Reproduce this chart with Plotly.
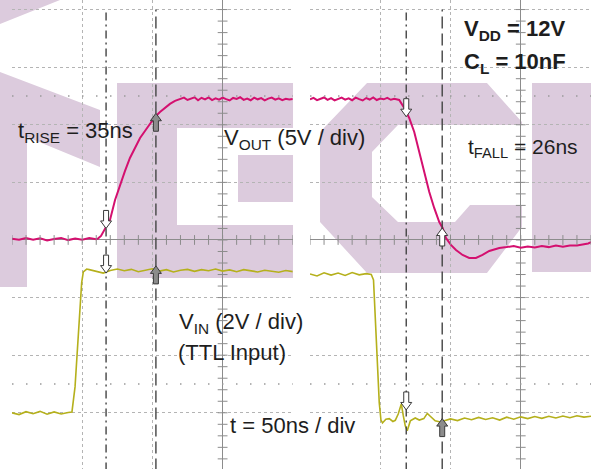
import numpy as np
import plotly.graph_objects as go

# ---------------- data (time in ns, voltage in V) ----------------
# Rising edge capture (left screen)
t_out_rise = [-150, -145, -140, -135, -130, -125, -120, -115, -110, -105, -100, -95, -90,
              -88.8, -86.6, -84.5, -82.3, -80.2, -76.6, -73.1, -69.5, -66.0, -62.4, -58.8,
              -55.3, -51.7, -48.2, -44.6, -41.0, -37.5, -33.9, -30.3,
              -27.5, -25, -22.5, -20, -17.5, -15, -12.5, -10, -7.5, -5, -2.5, 0, 2.5, 5, 7.5, 10,
              12.5, 15, 17.5, 20, 22.5, 25, 27.5, 30, 32.5, 35, 37.5, 40, 42.5, 45, 47.5, 50]
v_out_rise = [0.10, 0.02, 0.16, 0.03, 0.14, -0.05, 0.09, 0.18, -0.01, 0.13, 0.02, 0.17, 0.06,
              0.12, 0.35, 0.78, 1.22, 1.74, 3.47, 4.77, 5.99, 7.12, 7.99, 8.85,
              9.46, 10.07, 10.68, 11.11, 11.46, 11.81, 12.07, 12.24,
              12.36, 12.15, 12.30, 12.38, 12.12, 12.34, 12.20, 12.37, 12.14, 12.29, 12.18, 12.36,
              12.22, 12.11, 12.33, 12.25, 12.39, 12.16, 12.28, 12.13, 12.35, 12.21, 12.31, 12.12,
              12.27, 12.36, 12.18, 12.30, 12.14, 12.26, 12.20, 12.24]

t_in_rise = [-150, -145, -140, -135, -130, -125, -120, -115, -110,
             -107.3, -105.1, -103.5, -102.3, -100.4, -99.2, -96.8,
             -95, -90, -85, -80, -75, -70, -65, -60, -55, -50, -45, -40, -35, -30, -25,
             -20, -15, -10, -5, 0, 5, 10, 15, 20, 25, 30, 35, 40, 45, 50]
v_in_rise = [0.00, -0.06, 0.04, -0.03, 0.05, -0.05, 0.03, -0.04, 0.01,
             0.03, 0.90, 2.08, 3.22, 4.51, 4.89, 4.99,
             4.97, 4.91, 4.85, 4.94, 4.99, 4.93, 4.98, 4.90, 4.96, 5.00, 4.92, 4.97, 4.89, 4.95, 4.98,
             4.91, 4.97, 4.93, 4.99, 4.92, 4.96, 4.90, 4.97, 4.92, 4.89, 4.95, 4.91, 4.88, 4.94, 4.90]

# Falling edge capture (right screen)
t_out_fall = [-150, -147.5, -145, -142.5, -140, -137.5, -135, -132.5, -130, -127.5, -125, -122.5,
              -120, -117.5, -115, -112.5, -110, -107.5, -105, -102.5, -100, -97.5, -95, -92.5, -90,
              -86.5, -82.9, -79.4, -75.8, -72.2, -68.7, -65.1, -61.6, -58.0, -55.6, -53.2,
              -49.7, -46.1, -41.4, -36.7, -31.9, -27.2, -22.4, -15.3,
              -10, -5, 0, 5, 10, 15, 20, 25, 30, 35, 40, 45, 48, 50]
v_out_fall = [12.20, 12.34, 12.14, 12.29, 12.37, 12.16, 12.31, 12.12, 12.27, 12.36, 12.18, 12.30,
              12.13, 12.35, 12.22, 12.11, 12.32, 12.19, 12.37, 12.15, 12.28, 12.21, 12.33, 12.17, 12.25,
              12.15, 11.46, 10.59, 9.37, 7.64, 5.90, 4.17, 2.78, 1.56, 1.04, 0.17,
              -0.43, -0.87, -1.30, -1.56, -1.56, -1.30, -0.95, -0.69,
              -0.62, -0.52, -0.68, -0.56, -0.65, -0.53, -0.62, -0.49, -0.59, -0.48, -0.47, -0.38,
              -0.30, -0.20]

t_in_fall = [-150, -145, -140, -135, -130, -125, -120, -115, -110,
             -106.4, -104.8, -103.8, -102.3, -100.7, -99.5, -98.4, -96, -93.6, -91, -89.3,
             -87.2, -85.0, -83.6, -82.2, -80.8, -78.6, -75.1, -72.2, -69, -66.5, -64.4,
             -60.9, -57.3, -53, -50, -45, -40, -35, -30, -25, -20, -15, -10, -5, 0, 5, 10,
             15, 20, 25, 30, 35, 40, 45, 50]
v_in_fall = [4.82, 4.75, 4.86, 4.78, 4.85, 4.77, 4.87, 4.79, 4.83,
             4.80, 4.61, 3.47, 1.73, 0.34, -0.25, -0.35, -0.22, -0.20, -0.30, -0.26,
             -0.04, 0.31, -0.10, -0.45, -0.62, -0.28, -0.18, -0.25, -0.20, -0.02, -0.12,
             -0.28, -0.32, -0.24, -0.21, -0.27, -0.18, -0.24, -0.16, -0.23, -0.17, -0.25, -0.15,
             -0.22, -0.14, -0.20, -0.13, -0.19, -0.12, -0.18, -0.11, -0.17, -0.10, -0.15, -0.12]

# cursors (ns)
cursors_rise = [-83.0, -47.5]
cursors_fall = [-81.5, -55.9]
# cursor crossing levels (V)
vout_marks_rise = [1.00, 11.0]
vout_marks_fall = [10.7, 1.04]
vin_marks_rise = [4.85, 5.10]
vin_marks_fall = [0.10, -0.20]

labels = {
    "rise": "t<sub>RISE</sub> = 35ns",
    "vout": "V<sub>OUT</sub> (5V / div)",
    "fall": "t<sub>FALL</sub> = 26ns",
    "vdd": "<b>V<sub>DD</sub> = 12V</b>",
    "cl": "<b>C<sub>L</sub> = 10nF</b>",
    "vin": "V<sub>IN</sub> (2V / div)",
    "ttl": "(TTL Input)",
    "tdiv": "t = 50ns / div",
}

# ---------------- styling ----------------
W, H = 591, 469
PINK = "#d4106f"
OLIVE = "#b5b01c"
GRID = "#b4b4b4"
AXC = "#8c8c8c"
CUR = "#444444"
PURPLE = "#dccbdd"
FONT = "Liberation Sans, Arial, sans-serif"


def px(x, y):
    return x / W, 1 - y / H


def poly(points):
    s = ""
    for i, (x, y) in enumerate(points):
        fx, fy = px(x, y)
        s += ("M" if i == 0 else "L") + f"{fx:.4f},{fy:.4f}"
    return s + "Z"


fig = go.Figure()

# watermark (letters) behind everything
wm_polys = [
    [(0, 0), (60, 0), (0, 24)],
    [(0, 72), (100, 110), (100, 167), (27, 137), (27, 287), (0, 287)],
    [(117, 83), (293, 83), (293, 128), (177, 128), (177, 225), (293, 225), (293, 278), (117, 278)],
    [(238, 155), (293, 155), (293, 202), (238, 202)],
    [(320, 132), (367, 83), (487, 83), (522, 122), (522, 125), (398, 125), (372, 152), (372, 197),
     (398, 222), (455, 222), (470, 205), (522, 205), (522, 227), (487, 273), (367, 273), (320, 222)],
    [(532, 83), (591, 83), (591, 272), (532, 272)],
]
shapes = []
for p in wm_polys:
    shapes.append(dict(type="path", xref="paper", yref="paper", path=poly(p),
                       fillcolor=PURPLE, line=dict(width=0), layer="below"))

# ---------------- traces ----------------
fig.add_trace(go.Scatter(x=t_out_rise, y=v_out_rise, xaxis="x", yaxis="y", mode="lines",
                         line=dict(color=PINK, width=2), hoverinfo="skip"))
fig.add_trace(go.Scatter(x=t_out_fall, y=v_out_fall, xaxis="x2", yaxis="y", mode="lines",
                         line=dict(color=PINK, width=2), hoverinfo="skip"))
fig.add_trace(go.Scatter(x=t_in_rise, y=v_in_rise, xaxis="x", yaxis="y2", mode="lines",
                         line=dict(color=OLIVE, width=1.6), hoverinfo="skip"))
fig.add_trace(go.Scatter(x=t_in_fall, y=v_in_fall, xaxis="x2", yaxis="y2", mode="lines",
                         line=dict(color=OLIVE, width=1.6), hoverinfo="skip"))

# minor ticks on the centre graticule lines
tick_t = list(np.arange(-150, 51, 10))
tick_v = list(np.arange(-20, 21, 1))
for xa in ("x", "x2"):
    fig.add_trace(go.Scatter(x=tick_t, y=[0] * len(tick_t), xaxis=xa, yaxis="y", mode="markers",
                             marker=dict(symbol="line-ns", size=7, line=dict(color=AXC, width=1)),
                             hoverinfo="skip"))
    fig.add_trace(go.Scatter(x=[0] * len(tick_v), y=tick_v, xaxis=xa, yaxis="y", mode="markers",
                             marker=dict(symbol="line-ew", size=7, line=dict(color=AXC, width=1)),
                             hoverinfo="skip"))

# cursor lines and level reference lines
for xa, curs in (("x", cursors_rise), ("x2", cursors_fall)):
    shapes.append(dict(type="line", xref=xa, yref="y", x0=curs[0], x1=curs[0], y0=-20, y1=20,
                       line=dict(color=CUR, width=1.4, dash="8px,4px,2px,4px")))
    shapes.append(dict(type="line", xref=xa, yref="y", x0=curs[1], x1=curs[1], y0=-20, y1=20,
                       line=dict(color=CUR, width=1.4, dash="12px,5px")))
    for lvl in (12.5, -12.5):
        shapes.append(dict(type="line", xref=xa, yref="y", x0=-150, x1=50, y0=lvl, y1=lvl,
                           line=dict(color="#9a9a9a", width=1.5, dash="1.5px,12.5px")))

# cursor arrows (block arrows, sized in pixels, anchored at data points)
DOWN = "M0,0L-5.5,7.5L-2.5,7.5L-2.5,18L2.5,18L2.5,7.5L5.5,7.5Z"
UP = "M0,0L-5.5,-7.5L-2.5,-7.5L-2.5,-18L2.5,-18L2.5,-7.5L5.5,-7.5Z"


def arrow(xa, ya, x, y, down, filled):
    shapes.append(dict(type="path", xref=xa, yref=ya, xsizemode="pixel", ysizemode="pixel",
                       xanchor=x, yanchor=y, path=DOWN if down else UP,
                       fillcolor="#8c8c8c" if filled else "white",
                       line=dict(color="#3a3a3a", width=1)))


arrow("x", "y", cursors_rise[0], vout_marks_rise[0], True, False)
arrow("x", "y", cursors_rise[1], vout_marks_rise[1], False, True)
arrow("x", "y2", cursors_rise[0], vin_marks_rise[0], True, False)
arrow("x", "y2", cursors_rise[1], vin_marks_rise[1], False, True)
arrow("x2", "y", cursors_fall[0], vout_marks_fall[0], True, False)
arrow("x2", "y", cursors_fall[1], vout_marks_fall[1], False, False)
arrow("x2", "y2", cursors_fall[0], vin_marks_fall[0], True, False)
arrow("x2", "y2", cursors_fall[1], vin_marks_fall[1], False, True)

# text labels
annotations = []
text_pos = [("rise", 16, 132, 22), ("vout", 222, 139, 22), ("fall", 466, 148, 21),
            ("vdd", 462, 30, 22), ("cl", 462, 63, 22), ("vin", 177, 323, 22),
            ("ttl", 176, 352, 22), ("tdiv", 228, 425, 22)]
for key, x, y, fs in text_pos:
    fx, fy = px(x, y)
    annotations.append(dict(xref="paper", yref="paper", x=fx, y=fy, text=labels[key],
                            showarrow=False, xanchor="left", yanchor="middle",
                            font=dict(family=FONT, size=fs, color="#1e1e1e")))

xcommon = dict(range=[-150, 50], showgrid=True, gridcolor=GRID, griddash="dot", gridwidth=1,
               dtick=50, tick0=0, zeroline=True, zerolinecolor=AXC, zerolinewidth=1,
               showticklabels=False, ticks="", showline=False, fixedrange=True)
fig.update_layout(
    width=W, height=H,
    margin=dict(l=0, r=0, t=0, b=0),
    paper_bgcolor="white", plot_bgcolor="rgba(0,0,0,0)",
    showlegend=False,
    xaxis=dict(domain=[12 / W, 292.8 / W], anchor="y", **xcommon),
    xaxis2=dict(domain=[310 / W, 1.0], anchor="y", **xcommon),
    yaxis=dict(domain=[0, 1], range=[-19.88, 20.83], dtick=5, tick0=0, showgrid=True,
               gridcolor=GRID, griddash="dot", gridwidth=1, zeroline=True, zerolinecolor=AXC,
               zerolinewidth=1, showticklabels=False, ticks="", showline=False, fixedrange=True),
    yaxis2=dict(domain=[0, 1], range=[-1.95, 14.33], overlaying="y", visible=False,
                showgrid=False, zeroline=False, fixedrange=True),
    shapes=shapes,
    annotations=annotations,
)

fig.write_html("out.html", config={"displayModeBar": False},
               post_script="document.body.style.margin='0px';document.body.style.overflow='hidden';")
